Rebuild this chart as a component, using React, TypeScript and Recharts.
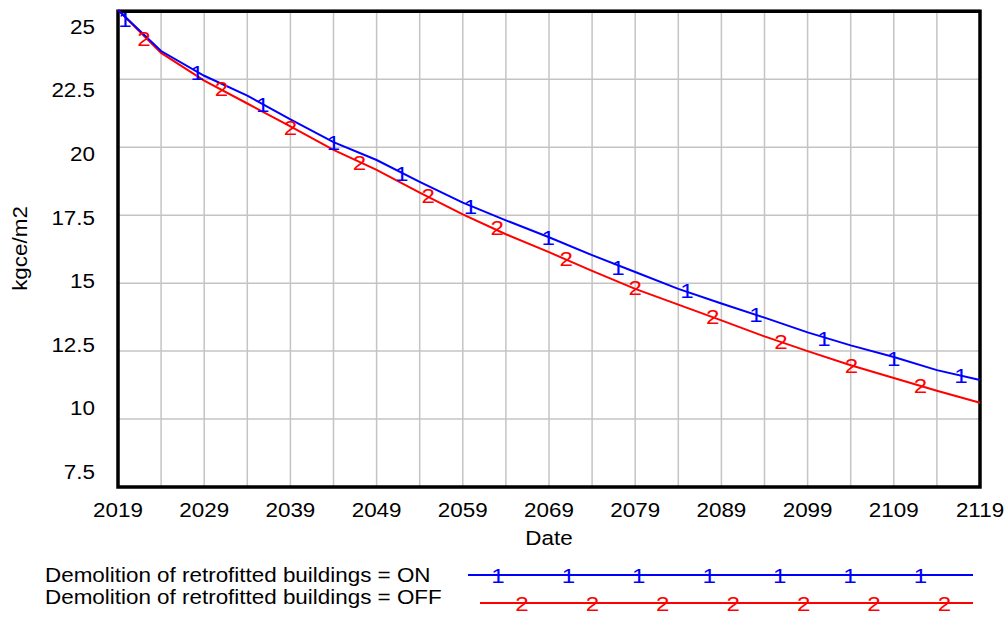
import React from "react";
import {
  ComposedChart,
  Line,
  Scatter,
  XAxis,
  YAxis,
  CartesianGrid,
  ReferenceArea,
} from "recharts";

// values, every 5 years
const years = [
  2019, 2024, 2029, 2034, 2039, 2044, 2049, 2054, 2059, 2064, 2069, 2074, 2079,
  2084, 2089, 2094, 2099, 2104, 2109, 2114, 2119,
];
const demolitionOn = [
  25.05, 23.54, 22.63, 21.9, 21.03, 20.19, 19.53, 18.73, 17.96, 17.31, 16.69,
  16.03, 15.41, 14.79, 14.25, 13.73, 13.19, 12.71, 12.28, 11.8, 11.44,
];
const demolitionOff = [
  25.05, 23.47, 22.45, 21.61, 20.77, 19.9, 19.17, 18.33, 17.53, 16.8, 16.14,
  15.45, 14.79, 14.21, 13.63, 13.04, 12.5, 11.98, 11.51, 11.04, 10.6,
];

// where the "1" / "2" run markers sit on each curve
const onMarkerYears = [
  2019.8, 2028.2, 2035.8, 2044, 2051.9, 2059.9, 2068.9, 2077, 2085, 2093,
  2100.9, 2109, 2116.8,
];
const onMarkerValues = [
  24.71, 22.74, 21.57, 20.19, 19.02, 17.82, 16.69, 15.59, 14.72, 13.84, 12.97,
  12.24, 11.62,
];
const offMarkerYears = [
  2022, 2031, 2039, 2047, 2055, 2063, 2071, 2079, 2088, 2095.9, 2104.1, 2112.1,
];
const offMarkerValues = [
  24.02, 22.16, 20.73, 19.46, 18.22, 17.05, 15.92, 14.83, 13.77, 12.86, 11.98,
  11.22,
];

const xTicks = [
  2019, 2024, 2029, 2034, 2039, 2044, 2049, 2054, 2059, 2064, 2069, 2074, 2079,
  2084, 2089, 2094, 2099, 2104, 2109, 2114, 2119,
];
const yTicks = [7.5, 10, 12.5, 15, 17.5, 20, 22.5, 25];

const seriesNames = [
  "Demolition of retrofitted buildings = ON",
  "Demolition of retrofitted buildings = OFF",
];

const FONT = "'Liberation Sans', Arial, sans-serif";
const FONT_SIZE = 19.5;
const STRETCH = 1.15;
const BLUE = "#0000ff";
const RED = "#ff0000";

const chartData = years.map((year, i) => ({
  year,
  on: demolitionOn[i],
  off: demolitionOff[i],
}));
const onMarkers = onMarkerYears.map((year, i) => ({ year, value: onMarkerValues[i] }));
const offMarkers = offMarkerYears.map((year, i) => ({ year, value: offMarkerValues[i] }));

function StretchText(props: {
  x: number;
  y: number;
  anchor?: "start" | "middle" | "end";
  rotate?: number;
  fill?: string;
  size?: number;
  children: React.ReactNode;
}) {
  const { x, y, anchor = "middle", rotate = 0, fill = "#000", size = FONT_SIZE } = props;
  return (
    <g transform={`translate(${x},${y}) rotate(${rotate}) scale(${STRETCH},1)`}>
      <text
        x={0}
        y={0}
        dy="0.36em"
        textAnchor={anchor}
        fontFamily={FONT}
        fontSize={size}
        fill={fill}
      >
        {props.children}
      </text>
    </g>
  );
}

const XTick = (props: any) => {
  const { x, y, payload } = props;
  if ((payload.value - 2019) % 10 !== 0) return <g />;
  return <StretchText x={x} y={y + 23}>{payload.value}</StretchText>;
};

// Vensim spreads the y labels evenly between the top and bottom rows
const YTick = (props: any) => {
  const { x, y, payload } = props;
  const shift = 15.5 - (25 - payload.value) * 1.75;
  return (
    <StretchText x={x} y={y + shift} anchor="end">
      {payload.value}
    </StretchText>
  );
};

const markerShape = (digit: string, color: string) => (props: any) => (
  <StretchText x={props.cx} y={props.cy} fill={color} size={21}>
    {digit}
  </StretchText>
);

function LegendRow(props: {
  label: string;
  textY: number;
  lineY: number;
  lineStart: number;
  firstMarker: number;
  digit: string;
  color: string;
}) {
  const marks = [0, 1, 2, 3, 4, 5, 6].map((i) => props.firstMarker + i * 70.4);
  return (
    <g>
      <StretchText x={45} y={props.textY} anchor="start">
        {props.label}
      </StretchText>
      <line
        x1={props.lineStart}
        x2={973}
        y1={props.lineY}
        y2={props.lineY}
        stroke={props.color}
        strokeWidth={2}
      />
      {marks.map((m) => (
        <StretchText key={m} x={m} y={props.lineY} fill={props.color} size={21}>
          {props.digit}
        </StretchText>
      ))}
    </g>
  );
}

export default function App() {
  return (
    <div style={{ position: "absolute", left: 0, top: 0, width: 1008, height: 623, background: "#fff" }}>
      <ComposedChart
        width={1008}
        height={560}
        data={chartData}
        margin={{ top: 10, right: 28, bottom: 0, left: 0 }}
      >
        <CartesianGrid stroke="#c4c4c4" strokeWidth={1.5} />
        <XAxis
          dataKey="year"
          type="number"
          domain={[2019, 2119]}
          ticks={xTicks}
          interval={0}
          height={73}
          axisLine={false}
          tickLine={false}
          tickSize={0}
          tickMargin={0}
          tick={<XTick />}
          label={{
            content: (p: any) => (
              <StretchText x={p.viewBox.x + p.viewBox.width / 2} y={p.viewBox.y + 51}>
                Date
              </StretchText>
            ),
          }}
        />
        <YAxis
          type="number"
          domain={[7.5, 25]}
          ticks={yTicks}
          interval={0}
          width={118}
          axisLine={false}
          tickLine={false}
          tickSize={0}
          tickMargin={23}
          tick={<YTick />}
          label={{
            content: (p: any) => (
              <StretchText x={20} y={p.viewBox.y + p.viewBox.height / 2} rotate={-90}>
                kgce/m2
              </StretchText>
            ),
          }}
        />
        <Line
          dataKey="off"
          type="linear"
          stroke={RED}
          strokeWidth={2}
          dot={false}
          isAnimationActive={false}
        />
        <Line
          dataKey="on"
          type="linear"
          stroke={BLUE}
          strokeWidth={2}
          dot={false}
          isAnimationActive={false}
        />
        <Scatter
          data={offMarkers}
          dataKey="value"
          shape={markerShape("2", RED)}
          isAnimationActive={false}
        />
        <Scatter
          data={onMarkers}
          dataKey="value"
          shape={markerShape("1", BLUE)}
          isAnimationActive={false}
        />
        <ReferenceArea
          x1={2019}
          x2={2119}
          y1={7.5}
          y2={25}
          fill="none"
          stroke="#000"
          strokeWidth={3.5}
          ifOverflow="visible"
        />
      </ComposedChart>
      <svg width={1008} height={63} style={{ display: "block" }}>
        <LegendRow
          label={seriesNames[0]}
          textY={15}
          lineY={15}
          lineStart={468}
          firstMarker={498}
          digit="1"
          color={BLUE}
        />
        <LegendRow
          label={seriesNames[1]}
          textY={37}
          lineY={43}
          lineStart={480}
          firstMarker={522}
          digit="2"
          color={RED}
        />
      </svg>
    </div>
  );
}
